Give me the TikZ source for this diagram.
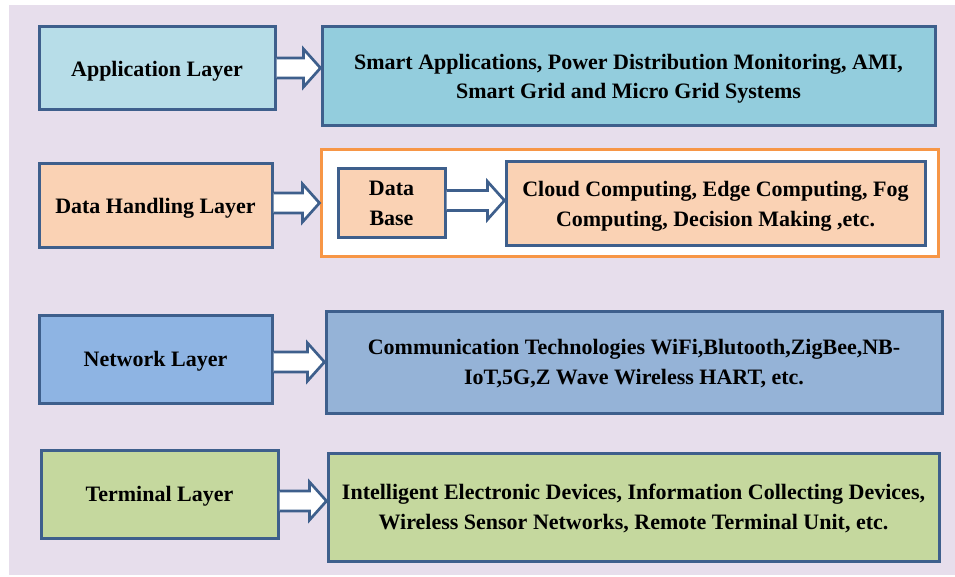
\documentclass[tikz,border=0pt]{standalone}
\usepackage{fontspec}
\setmainfont{Liberation Serif}
\usetikzlibrary{calc}

\definecolor{bgpanel}{HTML}{E7DEEC}
\definecolor{edgeblue}{HTML}{3E5F8C}
\definecolor{apLeft}{HTML}{B7DDE8}
\definecolor{apRight}{HTML}{93CDDD}
\definecolor{peach}{HTML}{FAD2B4}
\definecolor{netLeft}{HTML}{8EB4E3}
\definecolor{netRight}{HTML}{95B3D7}
\definecolor{termFill}{HTML}{C5D89E}
\definecolor{orangeEdge}{HTML}{F79646}

\tikzset{
  layerbox/.style={draw=edgeblue, line width=3pt, align=center, inner sep=0pt,
    text depth=0pt, font=\fontsize{22}{29.5}\selectfont\bfseries},
  hollowarrow/.style={draw=edgeblue, fill=white, line width=2.7pt, line join=miter},
}

% hollow block arrow from the east side of #1 to the west side of #2 at height #3
\newcommand\blockarrow[3]{%
  \path let \p1=(#1.east), \p2=(#2.west) in
    coordinate (s) at (\x1,0) coordinate (e) at (\x2,0);
  \draw[hollowarrow] let \p1=(s), \p2=(e) in
    (\x1,#3-10) -- (\x2-17pt,#3-10) -- (\x2-17pt,#3-19) -- (\x2,#3)
    -- (\x2-17pt,#3+19) -- (\x2-17pt,#3+10) -- (\x1,#3+10);
}

\begin{document}
\begin{tikzpicture}[x=1pt,y=-1pt]
  \useasboundingbox (0,0) rectangle (955,577);
  \fill[white] (0,0) rectangle (955,577);
  \fill[bgpanel] (9,5) rectangle (955,575);

  % application layer
  \node[layerbox, fill=apLeft, minimum width=236pt, minimum height=83pt] (appL) at (157,68.5) {Application Layer};
  \node[layerbox, fill=apRight, minimum width=613pt, minimum height=99pt] (appR) at (628.5,76.5)
    {Smart Applications, Power Distribution Monitoring, AMI,\\Smart Grid and Micro Grid Systems};

  % data handling layer
  \node[layerbox, fill=peach, minimum width=233pt, minimum height=84pt] (dataL) at (155.5,206) {Data Handling Layer};
  \node[draw=orangeEdge, fill=white, line width=3pt, minimum width=617pt, minimum height=107pt, inner sep=0pt] (dataR) at (629.5,203.5) {};
  \node[layerbox, fill=peach, minimum width=107pt, minimum height=69pt] (db) at (391.5,203.5) {Data\\Base};
  \node[layerbox, fill=peach, minimum width=419pt, minimum height=84pt] (cloud) at (715.5,204)
    {Cloud Computing, Edge Computing, Fog\\Computing, Decision Making ,etc.};

  % network layer
  \node[layerbox, fill=netLeft, minimum width=233pt, minimum height=88pt] (netL) at (155.5,359) {Network Layer};
  \node[layerbox, fill=netRight, minimum width=616pt, minimum height=102pt] (netR) at (634,362)
    {Communication Technologies WiFi,Blutooth,ZigBee,NB-\\IoT,5G,Z Wave Wireless HART, etc.};

  % terminal layer
  \node[layerbox, fill=termFill, minimum width=237pt, minimum height=88pt] (termL) at (159.5,494) {Terminal Layer};
  \node[layerbox, fill=termFill, minimum width=611pt, minimum height=108pt] (termR) at (633.5,507)
    {Intelligent Electronic Devices, Information Collecting Devices,\\Wireless Sensor Networks, Remote Terminal Unit, etc.};

  % connectors
  \blockarrow{appL}{appR}{68}
  \blockarrow{dataL}{dataR}{203}
  \blockarrow{db}{cloud}{200.5}
  \blockarrow{netL}{netR}{362}
  \blockarrow{termL}{termR}{501}
\end{tikzpicture}
\end{document}
